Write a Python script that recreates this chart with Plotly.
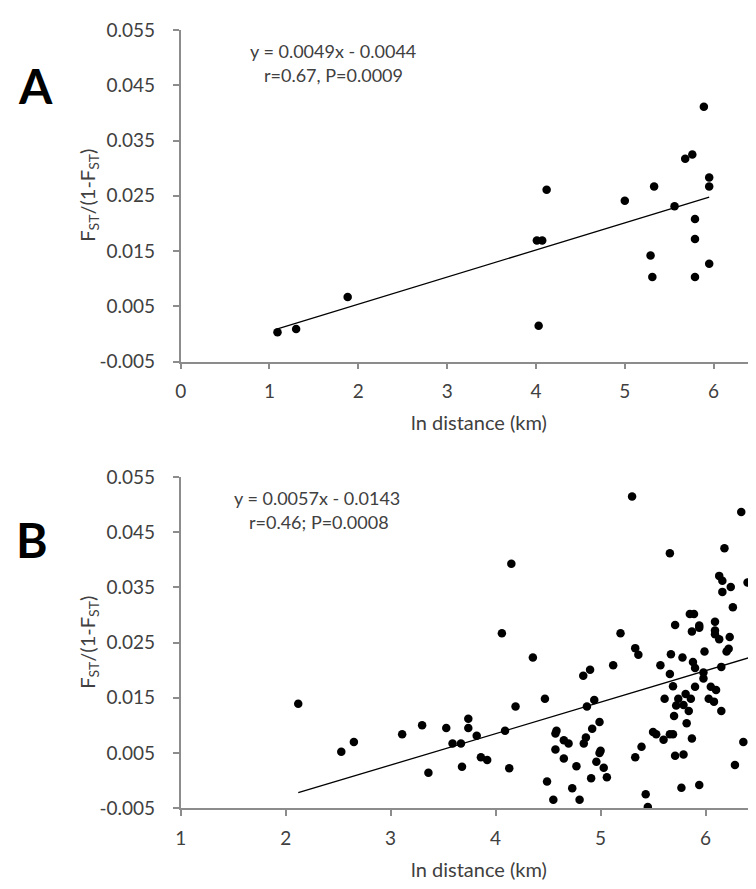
import plotly.graph_objects as go

# ---------------- data ----------------
# Panel A
a_x = [1.09, 1.30, 1.88, 4.01, 4.07, 4.03, 4.12, 5.00, 5.29, 5.31, 5.33, 5.56,
       5.68, 5.76, 5.79, 5.79, 5.79, 5.89, 5.95, 5.95, 5.95]
a_y = [0.0003, 0.0009, 0.0067, 0.0169, 0.0169, 0.0015, 0.0261, 0.0241, 0.0142, 0.0103, 0.0267, 0.0231,
       0.0317, 0.0325, 0.0208, 0.0172, 0.0103, 0.0411, 0.0283, 0.0267, 0.0127]
a_slope, a_intercept = 0.0049, -0.0044

# Panel B
b_x = [2.12, 2.53, 2.65, 3.11, 3.30, 3.36, 3.53, 3.59, 3.67, 3.68,
       3.74, 3.74, 3.82, 3.86, 3.92, 4.06, 4.09, 4.13, 4.15, 4.19,
       4.355, 4.47, 4.49, 4.57, 4.58, 4.57, 4.65, 4.695, 4.65, 4.73,
       4.77, 4.835, 4.90, 4.87, 4.94, 4.92, 4.99, 4.86, 4.84, 5.00,
       4.99, 4.96, 5.03, 4.91, 5.06, 5.12, 5.19, 5.30, 5.33, 5.36,
       5.39, 5.33, 5.50, 5.53, 5.57, 5.60, 5.61, 5.66, 5.66, 5.66,
       5.67, 5.69, 5.69, 5.70, 5.71, 5.71, 5.72, 5.74, 5.77, 5.78,
       5.79, 5.79, 5.81, 5.82, 5.84, 5.85, 5.89, 5.86, 5.87, 5.87,
       5.88, 5.90, 5.90, 5.94, 5.94, 5.94, 5.98, 5.98, 5.99, 6.03,
       6.05, 6.08, 6.09, 6.09, 6.09, 6.10, 6.13, 6.13, 6.15, 6.15,
       6.16, 6.16, 6.18, 6.20, 6.22, 6.23, 6.24, 6.26, 6.28, 6.34,
       6.36, 6.42, 6.40, 4.55, 4.80, 5.43, 5.45]
b_y = [0.0139, 0.0052, 0.0070, 0.0084, 0.0100, 0.0014, 0.0095, 0.0067, 0.0067, 0.0025,
       0.0112, 0.0095, 0.0081, 0.0042, 0.0037, 0.0267, 0.0090, 0.0022, 0.0393, 0.0134,
       0.0223, 0.0148, -0.0002, 0.0085, 0.0090, 0.0056, 0.0073, 0.0067, 0.0040, -0.0014,
       0.0026, 0.0190, 0.0201, 0.0134, 0.0146, 0.0094, 0.0106, 0.0078, 0.0067, 0.0054,
       0.0050, 0.0034, 0.0023, 0.0004, 0.0006, 0.0209, 0.0267, 0.0515, 0.0240, 0.0228,
       0.0061, 0.0042, 0.0088, 0.0084, 0.0209, 0.0074, 0.0148, 0.0412, 0.0193, 0.0084,
       0.0229, 0.0084, 0.0171, 0.0117, 0.0282, 0.0045, 0.0136, 0.0148, -0.0013, 0.0223,
       0.0137, 0.0047, 0.0157, 0.0104, 0.0126, 0.0302, 0.0302, 0.0148, 0.0270, 0.0076,
       0.0215, 0.0204, 0.0170, 0.0281, 0.0277, -0.0008, 0.0196, 0.0185, 0.0234, 0.0148,
       0.0170, 0.0143, 0.0288, 0.0272, 0.0265, 0.0164, 0.0371, 0.0256, 0.0206, 0.0126,
       0.0362, 0.0342, 0.0421, 0.0234, 0.0239, 0.0260, 0.0351, 0.0314, 0.0028, 0.0487,
       0.0070, 0.0359, 0.0359, -0.0035, -0.0035, -0.0025, -0.0048]
b_slope, b_intercept = 0.0057, -0.0143

y_ticks = [-0.005, 0.005, 0.015, 0.025, 0.035, 0.045, 0.055]
y_ticktext = ["-0.005", "0.005", "0.015", "0.025", "0.035", "0.045", "0.055"]
a_xticks = [0, 1, 2, 3, 4, 5, 6]
b_xticks = [1, 2, 3, 4, 5, 6]

eq_a = ["y = 0.0049x - 0.0044", "r=0.67, P=0.0009"]
eq_b = ["y = 0.0057x - 0.0143", "r=0.46; P=0.0008"]
y_title = "F<sub>ST</sub>/(1-F<sub>ST</sub>)"
x_title = "ln distance (km)"

# ---------------- figure ----------------
W, H = 756, 889
FONT = "Lato"
TXT = "#404040"
AX = "#8c8c8c"


def fx(px):
    return px / W


def fy(py):
    return 1 - py / H


fig = go.Figure()

# Panel A
fig.add_trace(go.Scatter(x=a_x, y=a_y, mode="markers", xaxis="x", yaxis="y",
                         marker=dict(color="black", size=8.5), showlegend=False))
la = [min(a_x), max(a_x)]
fig.add_trace(go.Scatter(x=la, y=[a_slope * v + a_intercept for v in la], mode="lines",
                         xaxis="x", yaxis="y", line=dict(color="black", width=1.3),
                         showlegend=False))
# Panel B
fig.add_trace(go.Scatter(x=b_x, y=b_y, mode="markers", xaxis="x2", yaxis="y2",
                         marker=dict(color="black", size=8.5), showlegend=False))
lb = [min(b_x), max(b_x)]
fig.add_trace(go.Scatter(x=lb, y=[b_slope * v + b_intercept for v in lb], mode="lines",
                         xaxis="x2", yaxis="y2", line=dict(color="black", width=1.3),
                         showlegend=False))

common_x = dict(showline=True, linecolor=AX, linewidth=1.5, ticks="outside", ticklen=6,
                tickwidth=1.5, tickcolor=AX, showgrid=False, zeroline=False,
                tickfont=dict(family=FONT, size=19, color=TXT), ticklabelstandoff=6)
common_y = dict(showline=True, linecolor=AX, linewidth=1.5, ticks="outside", ticklen=6,
                tickwidth=1.5, tickcolor=AX, showgrid=False, zeroline=False,
                tickfont=dict(family=FONT, size=19, color=TXT), ticklabelstandoff=14,
                tickvals=y_ticks, ticktext=y_ticktext, range=[-0.005, 0.055])

fig.update_layout(
    width=W, height=H, margin=dict(l=0, r=0, t=0, b=0),
    paper_bgcolor="white", plot_bgcolor="white",
    xaxis=dict(domain=[fx(168), fx(750)], range=[0, 6.5], tickvals=a_xticks, anchor="y", **common_x),
    yaxis=dict(domain=[fy(350.7), fy(10.3)], anchor="x", **common_y),
    xaxis2=dict(domain=[fx(168), fx(750)], range=[1, 6.5], tickvals=b_xticks, anchor="y2", **common_x),
    yaxis2=dict(domain=[fy(809), fy(469.3)], anchor="x2", **common_y),
)

ann = []
# panel letters
ann.append(dict(text="<b>A</b>", x=fx(22), y=fy(67), font=dict(family=FONT, size=48, color="black")))
ann.append(dict(text="<b>B</b>", x=fx(18), y=fy(533), font=dict(family=FONT, size=48, color="black")))
# equations
ann.append(dict(text=eq_a[0], x=fx(322), y=fy(32), font=dict(family=FONT, size=18, color=TXT)))
ann.append(dict(text=eq_a[1], x=fx(322), y=fy(56), font=dict(family=FONT, size=18, color=TXT)))
ann.append(dict(text=eq_b[0], x=fx(305), y=fy(491), font=dict(family=FONT, size=18, color=TXT)))
ann.append(dict(text=eq_b[1], x=fx(307), y=fy(515), font=dict(family=FONT, size=18, color=TXT)))
# axis titles
ann.append(dict(text=y_title, x=fx(75), y=fy(180), textangle=-90, font=dict(family=FONT, size=20, color=TXT)))
ann.append(dict(text=y_title, x=fx(75), y=fy(639), textangle=-90, font=dict(family=FONT, size=20, color=TXT)))
ann.append(dict(text=x_title, x=fx(469), y=fy(413), font=dict(family=FONT, size=20, color=TXT)))
ann.append(dict(text=x_title, x=fx(469), y=fy(872), font=dict(family=FONT, size=20, color=TXT)))

for a in ann:
    a.update(xref="paper", yref="paper", showarrow=False, xanchor="center", yanchor="middle")
fig.update_layout(annotations=ann)

fig.write_html("out.html")
